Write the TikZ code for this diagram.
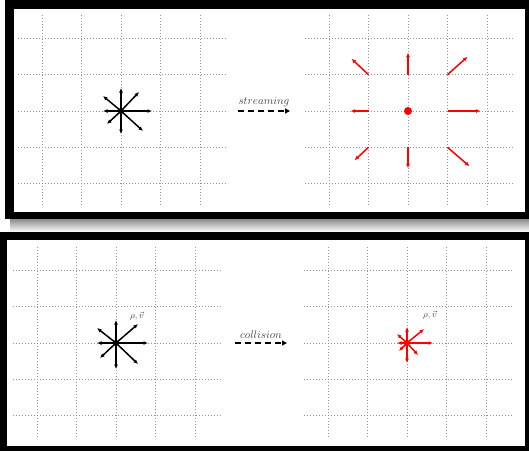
\documentclass[tikz,border=0pt]{standalone}
\usepackage{amsmath}
\usepackage{amssymb}
\usetikzlibrary{arrows.meta, positioning}

\begin{document}
\begin{tikzpicture}[
  x=1pt, y=-1pt,
  gridline/.style={gray!85, line width=0.9pt, dash pattern=on 1pt off 2pt},
  vec/.style={line width=1.5pt, -{Latex[length=4.5pt,width=4pt]}},
  flow/.style={line width=1.6pt, dash pattern=on 6pt off 4pt,
               -{Triangle[length=5pt,width=5pt]}},
  lbl/.style={font=\fontsize{11}{13}\selectfont, text=black!75, inner sep=1pt},
  every node/.style={font=\scriptsize}
]
  \useasboundingbox (0,0) rectangle (529,451);
  \fill[white] (0,0) rectangle (529,451);

  % panel frames and shadow
  \shade[top color=black!45, bottom color=white] (10,219) rectangle (529,232);
  \fill[black] (5,0) rectangle (529,219);
  \fill[white] (14,9) rectangle (525,212);
  \fill[black] (0,232) rectangle (529,451);
  \fill[white] (7,240) rectangle (525,446);

  % lattices
  \foreach \cx/\cy in {121/111, 408/111, 116/343, 407/343} {
    \begin{scope}[shift={(\cx,\cy)}]
      \foreach \k in {-2,...,2} {
        \draw[gridline] (-103,\k*36.3) -- (106,\k*36.3);
        \draw[gridline] (\k*39.5,-96) -- (\k*39.5,94);
      }
    \end{scope}
  }

  % streaming
  \coordinate (c1) at (121,111);
  \foreach \dx/\dy [count=\i] in {31/0, 0/-23, -18/0, 0/23, 18/-19, -18/-15, -14/13, 22/20} {
    \path (c1) ++(\dx,\dy) coordinate (p\i);
    \draw[vec] (c1) -- (p\i);
  }
  \fill (c1) circle (3pt);

  \coordinate (s0) at (238,111);
  \coordinate (s1) at (290,111);
  \draw[flow] (s0) -- node[lbl, above=3pt] {$streaming$} (s1);

  \coordinate (c2) at (408,111);
  \foreach \ox/\oy/\dx/\dy [count=\i] in {39.5/0/33/0, 0/-36.3/0/-22, -39.5/0/-18/0,
      0/36.3/0/21, 39.5/-36.3/20/-18, -39.5/-36.3/-17/-16,
      -39.5/36.3/-14/13, 39.5/36.3/22/19} {
    \path (c2) ++(\ox,\oy) coordinate (q\i) ++(\dx,\dy) coordinate (r\i);
    \draw[vec, red] (q\i) -- (r\i);
  }
  \fill[red] (c2) circle (4pt);

  % collision
  \coordinate (c3) at (116,343);
  \foreach \dx/\dy [count=\i] in {32/0, 0/-23, -19/0, 0/26, 22/-19, -19/-15, -16/15, 22/21} {
    \path (c3) ++(\dx,\dy) coordinate (u\i);
    \draw[vec] (c3) -- (u\i);
  }
  \fill (c3) circle (3pt);
  \node[lbl, font=\small] (rv1) at (137,316) {$\rho,\vec{v}$};

  \coordinate (t0) at (235,343);
  \coordinate (t1) at (287,343);
  \draw[flow] (t0) -- node[lbl, above=3pt] {$collision$} (t1);

  \coordinate (c4) at (407,343);
  \foreach \dx/\dy [count=\i] in {26/0, 0/-16, -10/0, 0/20, 17/-14, -10/-9, -8/8, 11/12} {
    \path (c4) ++(\dx,\dy) coordinate (w\i);
    \draw[vec, red] (c4) -- (w\i);
  }
  \fill[red] (c4) circle (3pt);
  \node[lbl, font=\small] (rv2) at (430,315) {$\rho,\vec{v}$};
\end{tikzpicture}
\end{document}
